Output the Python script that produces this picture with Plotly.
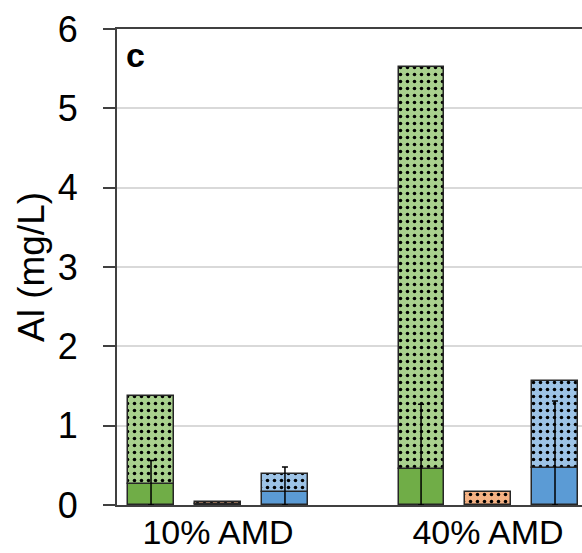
import plotly.graph_objects as go

# Al concentrations (mg/L) per treatment
categories = ["10% AMD", "40% AMD"]
series_names = ["Series A", "Series B", "Series C"]
# dissolved (solid lower segment)
dissolved = {
    "Series A": [0.27, 0.46],
    "Series B": [0.01, 0.00],
    "Series C": [0.17, 0.47],
}
# total (top of dotted segment)
total = {
    "Series A": [1.38, 5.52],
    "Series B": [0.04, 0.17],
    "Series C": [0.39, 1.56],
}
# standard deviation of the dissolved fraction
dissolved_err = {
    "Series A": [0.29, 0.81],
    "Series B": [0.0, 0.0],
    "Series C": [0.31, 0.84],
}
y_ticks = [0, 1, 2, 3, 4, 5, 6]

solid_colors = {"Series A": "#70AD47", "Series B": "#ED7D31", "Series C": "#5B9BD5"}
light_colors = {"Series A": "#A9D18E", "Series B": "#F4B183", "Series C": "#9DC3E6"}

bar_w = 0.167
step = 0.248
edge = "#262626"

fig = go.Figure()
for k, name in enumerate(series_names):
    xs = [i + (k - 1) * step for i in range(len(categories))]
    d = dissolved[name]
    t = total[name]
    # solid dissolved part
    fig.add_trace(go.Bar(
        x=xs, y=d, width=bar_w, name=name,
        marker=dict(color=solid_colors[name], line=dict(color=edge, width=1.5)),
        showlegend=False, hoverinfo="skip",
    ))
    # dotted particulate part stacked on top
    fig.add_trace(go.Bar(
        x=xs, y=[tv - dv for tv, dv in zip(t, d)], base=d, width=bar_w,
        marker=dict(
            color=light_colors[name],
            line=dict(color=edge, width=1.5),
            pattern=dict(shape=".", fgcolor="#000000", bgcolor=light_colors[name],
                         size=7, solidity=0.2, fillmode="replace"),
        ),
        showlegend=False, hoverinfo="skip",
    ))

# error bars drawn above the stacked bars
for k, name in enumerate(series_names):
    xs = [i + (k - 1) * step for i in range(len(categories))]
    d = dissolved[name]
    e = dissolved_err[name]
    keep = [j for j in range(len(xs)) if e[j] > 0]
    fig.add_trace(go.Scatter(
        x=[xs[j] for j in keep], y=[d[j] for j in keep], mode="markers",
        marker=dict(size=0.1, color="rgba(0,0,0,0)"),
        error_y=dict(type="data", symmetric=False,
                     array=[e[j] for j in keep],
                     arrayminus=[min(e[j], d[j]) for j in keep],
                     color="#000000", thickness=1.5, width=3),
        showlegend=False, hoverinfo="skip",
    ))

fig.add_annotation(text="<b>c</b>", xref="paper", yref="paper", x=0.016, y=0.99,
                   xanchor="left", yanchor="top", showarrow=False,
                   font=dict(family="Liberation Sans, Arial, sans-serif", size=34, color="#000"))

fig.update_layout(
    width=582, height=553,
    margin=dict(l=117, r=0, t=29, b=48),
    plot_bgcolor="white", paper_bgcolor="white",
    barmode="overlay", bargap=0,
    font=dict(family="Liberation Sans, Arial, sans-serif", size=36, color="#000"),
    xaxis=dict(
        range=[-0.374, 1.348], automargin=False,
        tickvals=list(range(len(categories))), ticktext=categories,
        showline=True, linecolor="#404040", linewidth=2, mirror=True,
        ticks="", showgrid=False, zeroline=False,
        tickfont=dict(size=34), ticklabelstandoff=-4,
    ),
    yaxis=dict(
        range=[0, 6], tickvals=y_ticks, automargin=False,
        showline=True, linecolor="#404040", linewidth=2,
        ticks="outside", ticklen=12, tickwidth=2, tickcolor="#404040",
        showgrid=True, gridcolor="#D9D9D9", gridwidth=1.5, zeroline=False,
        tickfont=dict(size=36), ticklabelstandoff=18,
        title=dict(text="Al (mg/L)", font=dict(size=37), standoff=2),
    ),
)

fig.write_html("out.html")
